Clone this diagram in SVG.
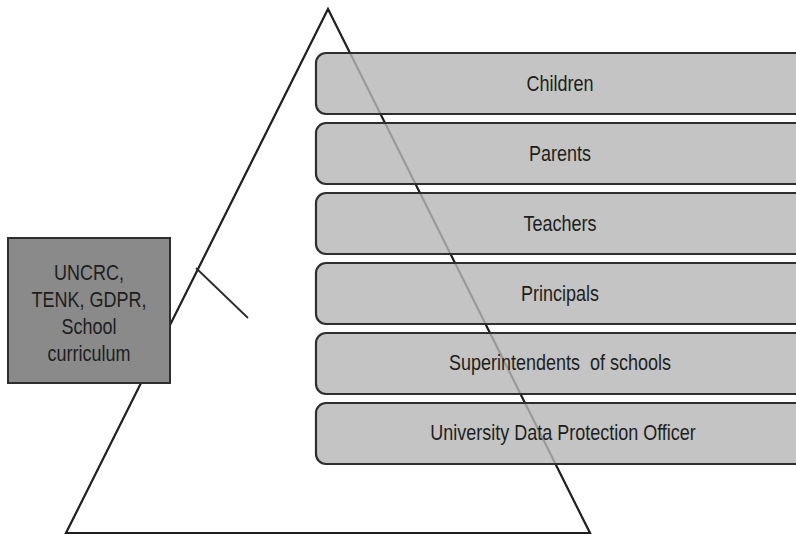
<svg xmlns="http://www.w3.org/2000/svg" width="796" height="536" viewBox="0 0 796 536">
<style>
.tri{fill:none;stroke:#1e1e1e;stroke-width:2.2;stroke-linejoin:miter}
.lvl rect{fill:#b6b6b6;fill-opacity:0.81;stroke:#2e2e2e;stroke-width:2.2}
.t{font-family:"Liberation Sans",Arial,sans-serif;font-size:18px;fill:#1e1e1e;text-anchor:middle}
.src rect{fill:#8a8a8a;stroke:#2e2e2e;stroke-width:2}
</style>
<rect width="796" height="536" fill="#ffffff"/>
<g id="triangle">
<polygon class="tri" points="328,9 590,533 66,533"/>
</g>
<g id="connectors">
<line x1="196" y1="268" x2="248" y2="318" stroke="#2a2a2a" stroke-width="1.8"/>
</g>
<g id="children" class="lvl"><rect x="316" y="53" width="500" height="61" rx="10"/><text class="t" transform="translate(560,91) scale(1,1.25)">Children</text></g>
<g id="parents" class="lvl"><rect x="316" y="123" width="500" height="61" rx="10"/><text class="t" transform="translate(560,161) scale(1,1.25)">Parents</text></g>
<g id="teachers" class="lvl"><rect x="316" y="193" width="500" height="61" rx="10"/><text class="t" transform="translate(560,231) scale(1,1.25)">Teachers</text></g>
<g id="principals" class="lvl"><rect x="316" y="263" width="500" height="61" rx="10"/><text class="t" transform="translate(560,301) scale(1,1.25)">Principals</text></g>
<g id="superintendents" class="lvl"><rect x="316" y="333" width="500" height="61" rx="10"/><text class="t" transform="translate(560,370) scale(1,1.25)" xml:space="preserve">Superintendents  of schools</text></g>
<g id="dpo" class="lvl"><rect x="316" y="403" width="500" height="61" rx="10"/><text class="t" transform="translate(563,440) scale(1,1.25)">University Data Protection Officer</text></g>
<g id="frameworks" class="src">
<rect x="8" y="238" width="162" height="145"/>
<text class="t" transform="translate(89,280) scale(1,1.25)">UNCRC,</text>
<text class="t" transform="translate(89,307) scale(1,1.25)">TENK, GDPR,</text>
<text class="t" transform="translate(89,334) scale(1,1.25)">School</text>
<text class="t" transform="translate(89,361) scale(1,1.25)">curriculum</text>
</g>
</svg>
